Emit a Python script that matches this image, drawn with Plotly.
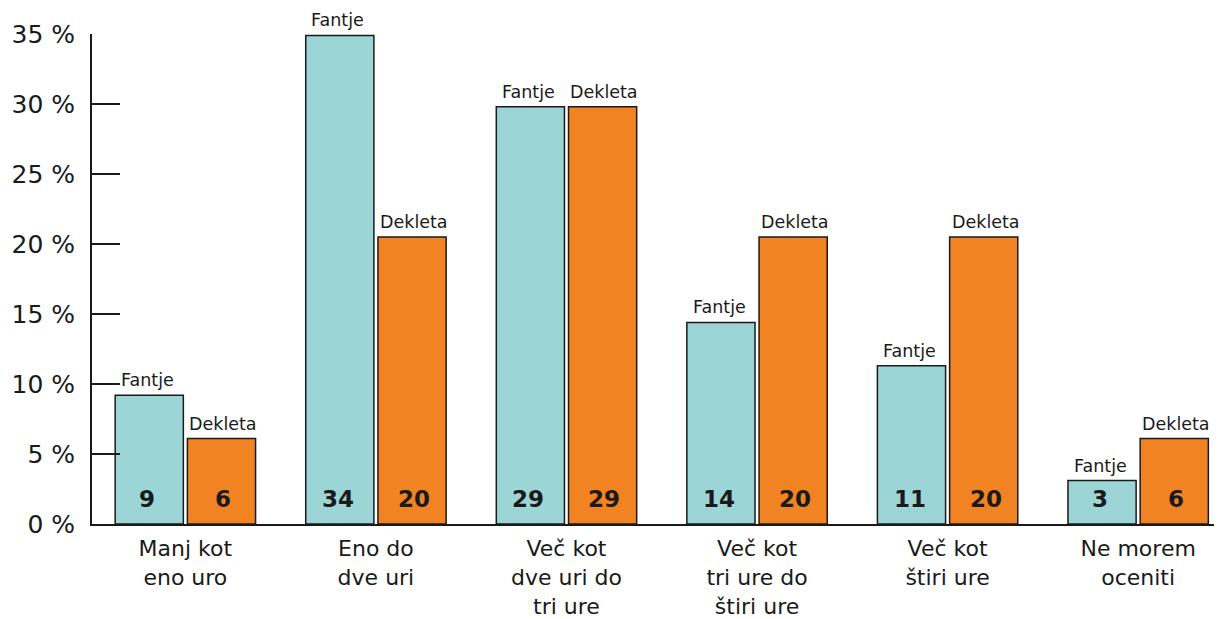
import plotly.graph_objects as go

categories = [
    "Manj kot<br>eno uro",
    "Eno do<br>dve uri",
    "Več kot<br>dve uri do<br>tri ure",
    "Več kot<br>tri ure do<br>štiri ure",
    "Več kot<br>štiri ure",
    "Ne morem<br>oceniti",
]
fantje_values = [9.2, 34.9, 29.8, 14.4, 11.3, 3.1]
dekleta_values = [6.1, 20.5, 29.8, 20.5, 20.5, 6.1]
fantje_labels = ["9", "34", "29", "14", "11", "3"]
dekleta_labels = ["6", "20", "29", "20", "20", "6"]
y_ticks = [0, 5, 10, 15, 20, 25, 30, 35]
y_ticktext = [f"{v} %" for v in y_ticks]

FONT = "DejaVu Sans"
TEAL = "#9BD5D6"
ORANGE = "#F28322"
INK = "#1a1a1a"

fig = go.Figure(data=[
    go.Bar(name="Fantje", x=categories, y=fantje_values, marker_color=TEAL,
           marker_line=dict(color=INK, width=1.5), hoverinfo="y"),
    go.Bar(name="Dekleta", x=categories, y=dekleta_values, marker_color=ORANGE,
           marker_line=dict(color=INK, width=1.5), hoverinfo="y"),
])

# series names above bars, values near the base
for series, values, labels, shift in [
    ("Fantje", fantje_values, fantje_labels, -38),
    ("Dekleta", dekleta_values, dekleta_labels, 38),
]:
    for cat, v, lab in zip(categories, values, labels):
        fig.add_annotation(x=cat, y=v, text=series, showarrow=False,
                           xshift=shift, yshift=3, yanchor="bottom",
                           font=dict(family=FONT, size=17.5, color=INK))
        fig.add_annotation(x=cat, y=0, text=f"<b>{lab}</b>", showarrow=False,
                           xshift=shift, yshift=10, yanchor="bottom",
                           font=dict(family=FONT, size=23, color=INK))

fig.update_layout(
    barmode="group",
    bargap=0.242,
    bargroupgap=0.056,
    showlegend=False,
    template="plotly_white",
    plot_bgcolor="white",
    paper_bgcolor="white",
    width=1214,
    height=611,
    margin=dict(l=84, r=0, t=26, b=95),
    font=dict(family=FONT, size=22, color=INK),
    xaxis=dict(range=[-0.49, 5.44], showline=True, linecolor=INK, linewidth=2,
               showgrid=False, ticks="", ticklabelstandoff=4,
               tickfont=dict(size=22)),
    yaxis=dict(range=[0, 35], tickvals=y_ticks, ticktext=y_ticktext,
               showline=True, linecolor=INK, linewidth=2, showgrid=False,
               zeroline=False, ticks="inside", ticklen=28, tickwidth=2,
               tickcolor=INK, ticklabelstandoff=10, tickfont=dict(size=25)),
)

fig.write_html("out.html")
